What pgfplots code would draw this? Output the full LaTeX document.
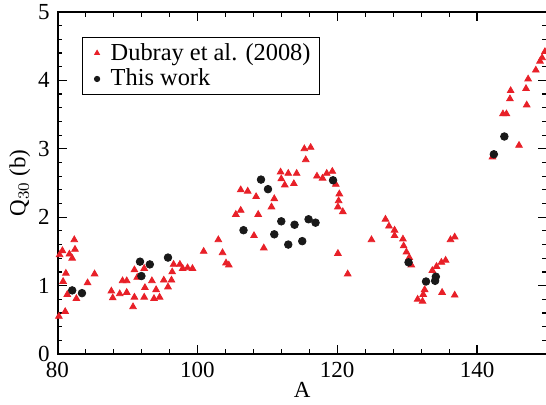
\documentclass[border=0pt]{standalone}
\usepackage{fontspec}
\setmainfont{Liberation Serif}
\usepackage{pgfplots}
\pgfplotsset{compat=1.18}
\definecolor{trired}{RGB}{232,32,40}

\begin{document}
\begin{tikzpicture}
\useasboundingbox (-28.75pt,-25pt) rectangle (244.25pt,177pt);
\begin{axis}[
    scale only axis,
    width=244.75pt, height=171pt,
    at={(0,0)}, anchor=south west,
    xmin=80, xmax=150, ymin=0, ymax=5,
    xtick={80,100,...,140}, ytick={0,1,...,5},
    minor x tick num=4, minor y tick num=4,
    tick align=inside,
    major tick length=4.7pt, minor tick length=2.3pt,
    axis line style={line width=1pt},
    every tick/.style={black, line width=0.6pt},
    tick label style={font=\fontsize{11.5}{13}\selectfont},
    xticklabel style={yshift=-0.6pt},
    yticklabel style={xshift=-0.4pt},
    /pgf/number format/assume math mode=true,
    label style={font=\fontsize{11.5}{13}\selectfont},
    xlabel={A},
    ylabel={Q$_{30}$ (b)},
    xlabel style={at={(axis description cs:0.5,-0.105)}, anchor=center},
    ylabel style={at={(axis description cs:-0.077,0.5)}, anchor=center},
    legend style={at={(0.05,0.927)}, anchor=north west, draw=black, line width=0.5pt,
        font=\fontsize{12.2}{14}\selectfont, inner xsep=2.5pt, inner ysep=0.8pt, row sep=-1pt},
    legend image code/.code={
        \path (0cm,0cm) (0.32cm,0cm);
        \draw[#1, mark size=1.3pt] plot coordinates {(0.16cm,0cm)};
    },
    legend cell align={left},
]
\addplot[only marks, mark=triangle*, mark size=1.9pt, color=trired] coordinates {
(82.4,1.67) (80.7,1.51) (82.5,1.53) (80.3,1.45) (81.7,1.46) (82.1,1.40)
(81.2,1.18) (80.8,1.06) (81.4,0.87) (82.7,0.81) (81.1,0.62) (80.2,0.55)
(84.3,1.04) (85.3,1.17) (87.7,0.92) (87.9,0.82) (88.9,0.88) (89.3,1.07)
(89.9,1.07) (89.9,0.90) (91.0,0.83) (90.8,0.69) (91.0,1.23) (91.4,1.12)
(92.4,1.25) (92.5,0.97) (92.4,0.83) (93.5,1.07) (94.1,0.94) (93.8,0.81)
(94.6,0.83) (95.2,1.08) (95.8,0.98) (96.3,1.08) (96.4,1.20) (96.6,1.31)
(97.5,1.31) (97.9,1.25) (98.6,1.26) (99.3,1.25) (100.9,1.50)
(103.0,1.67) (103.6,1.48) (104.1,1.33) (104.5,1.30) (105.5,2.04) (106.2,2.10)
(106.2,2.40) (107.2,2.38) (108.1,1.73) (108.4,2.30) (108.7,2.04) (109.5,1.55)
(110.6,2.15) (111.0,2.27) (111.9,2.66) (112.0,2.56) (112.5,2.47) (113.0,2.64)
(113.8,2.49) (114.2,2.64) (115.3,3.00) (116.2,3.02) (115.5,2.84) (117.1,2.60)
(117.9,2.57) (118.5,2.64) (119.3,2.67) (119.8,2.48) (120.3,2.34) (120.2,2.24)
(120.1,2.15) (120.8,2.08) (120.1,1.47) (121.5,1.17)
(124.9,1.67) (126.9,1.97) (127.4,1.87) (128.2,1.81) (128.2,1.73) (129.4,1.68)
(129.5,1.58) (129.9,1.49) (130.3,1.41) (130.6,1.30) (136.2,1.67) (136.8,1.71)
(135.5,1.37) (134.9,1.34) (134.2,1.28) (133.6,1.22) (135.0,0.90) (136.8,0.86)
(132.5,0.94) (132.3,0.87) (131.5,0.80) (132.2,0.77)
(142.2,2.88) (146.0,3.05) (143.7,3.51) (144.2,3.51) (144.7,3.73) (144.8,3.85)
(147.1,3.64) (147.0,3.88) (147.3,4.02) (148.4,4.15) (149.0,4.28) (149.3,4.33)
(149.7,4.42)
};
\addlegendentry{Dubray et al. (2008)}
\addplot[only marks, mark=*, mark size=1.9pt, color=black!90] coordinates {
(82.1,0.93) (83.5,0.89) (91.8,1.35) (92.0,1.14) (93.2,1.31) (95.8,1.41)
(106.6,1.81) (109.1,2.55) (110.1,2.41) (111.0,1.75) (112.0,1.94) (113.0,1.60)
(113.9,1.89) (115.0,1.65) (115.9,1.97) (116.9,1.92) (119.4,2.54)
(130.2,1.34) (132.7,1.06) (134.0,1.07) (134.1,1.13) (142.4,2.92) (143.9,3.18)
};
\addlegendentry{This work}
\end{axis}
\end{tikzpicture}
\end{document}
